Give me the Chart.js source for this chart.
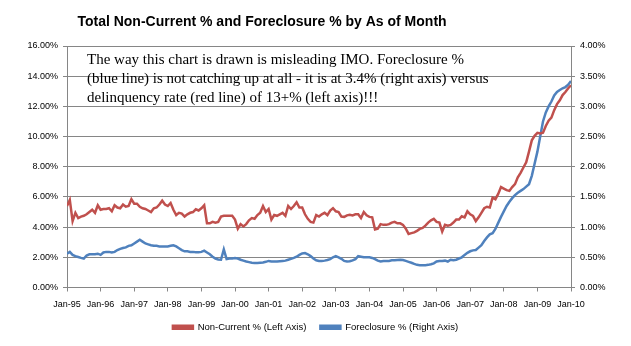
<!DOCTYPE html>
<html>
<head>
<meta charset="utf-8">
<script src="https://cdn.jsdelivr.net/npm/chart.js@4.4.1/dist/chart.umd.min.js"></script>
<style>
  html, body { margin: 0; padding: 0; background: #fff; }
  #wrap { width: 631px; height: 346px; position: relative; }
</style>
</head>
<body>
<div id="wrap"><canvas id="chart"></canvas></div>
<script>
// year labels on the x axis, one per January
const yearLabels = ['Jan-95', 'Jan-96', 'Jan-97', 'Jan-98', 'Jan-99', 'Jan-00', 'Jan-01', 'Jan-02',
  'Jan-03', 'Jan-04', 'Jan-05', 'Jan-06', 'Jan-07', 'Jan-08', 'Jan-09', 'Jan-10'];

// monthly Non-Current %, Jan-95 .. Jan-10 (left axis)
const nonCurrent = [
  5.4, 5.8, 4.4, 4.95, 4.6, 4.7, 4.75, 4.85, 5.0, 5.15, 4.95, 5.45,
  5.15, 5.2, 5.2, 5.25, 5.05, 5.45, 5.3, 5.25, 5.5, 5.35, 5.4, 5.85,
  5.55, 5.55, 5.35, 5.25, 5.2, 5.1, 5.0, 5.25, 5.3, 5.5, 5.75, 5.5,
  5.4, 5.6, 5.15, 4.8, 4.95, 4.9, 4.7, 4.85, 4.95, 5.0, 5.18, 5.1,
  5.25, 5.45, 4.25, 4.25, 4.35, 4.3, 4.35, 4.7, 4.75, 4.75, 4.75, 4.75,
  4.5, 3.9, 4.2, 4.05, 4.2, 4.45, 4.6, 4.55, 4.8, 4.95, 5.4, 5.0,
  5.2, 4.5, 4.8, 4.75, 4.85, 4.95, 4.75, 5.4, 5.2, 5.4, 5.65, 5.3,
  5.3, 4.85, 4.55, 4.35, 4.3, 4.8, 4.7, 4.85, 4.95, 4.8, 5.1, 5.25,
  5.05, 5.0, 4.7, 4.68, 4.78, 4.82, 4.78, 4.85, 4.85, 4.6, 5.0, 4.78,
  4.68, 4.65, 3.85, 3.9, 4.2, 4.15, 4.15, 4.2, 4.3, 4.35, 4.25, 4.25,
  4.15, 3.9, 3.55, 3.6, 3.65, 3.75, 3.88, 3.95, 4.1, 4.3, 4.45, 4.55,
  4.35, 4.3, 3.7, 4.15, 4.1, 4.15, 4.3, 4.5, 4.5, 4.72, 4.65, 5.05,
  4.85, 4.75, 4.4, 4.65, 4.95, 5.25, 5.35, 5.3, 5.95, 5.85, 6.2, 6.65,
  6.55, 6.45, 6.4, 6.65, 6.85, 7.3, 7.6, 7.95, 8.3, 9.0, 9.75, 10.05,
  10.25, 10.2, 10.25, 10.7, 11.05, 11.25, 11.75, 12.15, 12.4, 12.75, 12.95, 13.2,
  13.4
];

// monthly Foreclosure %, Jan-95 .. Jan-10 (right axis)
const foreclosure = [
  0.56, 0.59, 0.54, 0.52, 0.505, 0.49, 0.48, 0.53, 0.55, 0.55, 0.55, 0.56,
  0.54, 0.58, 0.59, 0.59, 0.58, 0.59, 0.62, 0.64, 0.655, 0.665, 0.69, 0.7,
  0.73, 0.76, 0.79, 0.76, 0.73, 0.715, 0.7, 0.69, 0.69, 0.68, 0.68, 0.68,
  0.68, 0.69, 0.7, 0.68, 0.65, 0.62, 0.6, 0.6, 0.59, 0.59, 0.585, 0.585,
  0.59, 0.61, 0.58, 0.55, 0.51, 0.48, 0.465, 0.46, 0.63, 0.47, 0.48, 0.48,
  0.49, 0.48, 0.46, 0.445, 0.43, 0.42, 0.41, 0.405, 0.405, 0.41, 0.415, 0.425,
  0.44, 0.43, 0.43, 0.43, 0.435, 0.44, 0.445, 0.46, 0.475, 0.49, 0.51, 0.54,
  0.565, 0.57, 0.55, 0.52, 0.48, 0.45, 0.44, 0.44, 0.445, 0.455, 0.47, 0.5,
  0.52, 0.5, 0.475, 0.44, 0.43, 0.435, 0.45, 0.47, 0.52, 0.51, 0.5, 0.5,
  0.5, 0.49, 0.47, 0.445, 0.43, 0.44, 0.44, 0.44, 0.45, 0.45, 0.455, 0.46,
  0.455, 0.44, 0.425, 0.41, 0.39, 0.375, 0.37, 0.37, 0.37, 0.375, 0.385, 0.4,
  0.43, 0.44, 0.44, 0.445, 0.43, 0.46, 0.45, 0.46, 0.48, 0.5, 0.54, 0.575,
  0.6, 0.615, 0.62, 0.66, 0.7, 0.77, 0.83, 0.88, 0.9, 0.97, 1.07, 1.17,
  1.26, 1.35, 1.42, 1.48, 1.53, 1.57, 1.6, 1.63, 1.67, 1.71, 1.85, 2.05,
  2.25, 2.5, 2.75, 2.9, 3.0, 3.08, 3.18, 3.24, 3.27, 3.3, 3.32, 3.36,
  3.42
];

const titleText = 'Total Non-Current % and Foreclosure % by As of Month';
const noteLines = [
  'The way this chart is drawn is misleading IMO. Foreclosure %',
  '(blue line) is not catching up at all - it is at 3.4% (right axis) versus',
  'delinquency rate (red line) of 13+% (left axis)!!!'
];

const gridColor = '#868686';
const labelFont = { family: 'Liberation Sans, Arial, sans-serif', size: 9 };

// title and the free-floating comment box
const textPlugin = {
  id: 'textPlugin',
  afterDraw(chart) {
    const ctx = chart.ctx;
    ctx.save();
    ctx.fillStyle = '#000';
    ctx.textBaseline = 'middle';
    ctx.textAlign = 'center';
    ctx.font = 'bold 14px "Liberation Sans", Arial, sans-serif';
    ctx.fillText(titleText, 262, 22);
    ctx.textAlign = 'left';
    ctx.font = '15px "Liberation Serif", "Times New Roman", serif';
    noteLines.forEach((line, i) => ctx.fillText(line, 87, 60 + i * 19));
    ctx.restore();
  }
};

const toPoints = arr => arr.map((v, i) => ({ x: i, y: v }));

new Chart(document.getElementById('chart'), {
  type: 'line',
  data: {
    datasets: [
      {
        label: 'Non-Current % (Left Axis)',
        data: toPoints(nonCurrent),
        borderColor: '#C0504D',
        backgroundColor: '#C0504D',
        borderWidth: 2.5,
        pointRadius: 0,
        tension: 0,
        yAxisID: 'y'
      },
      {
        label: 'Foreclosure % (Right Axis)',
        data: toPoints(foreclosure),
        borderColor: '#4F81BD',
        backgroundColor: '#4F81BD',
        borderWidth: 2.5,
        pointRadius: 0,
        tension: 0,
        yAxisID: 'y1'
      }
    ]
  },
  options: {
    responsive: true,
    maintainAspectRatio: false,
    animation: false,
    layout: { padding: { top: 46, left: 0, right: 0, bottom: 4 } },
    scales: {
      x: {
        type: 'linear',
        min: 0,
        max: 180,
        afterBuildTicks: scale => {
          scale.ticks = yearLabels.map((_, i) => ({ value: i * 12 }));
        },
        ticks: {
          autoSkip: false,
          maxRotation: 0,
          color: '#000',
          font: labelFont,
          padding: 8,
          callback: v => yearLabels[Math.round(v / 12)]
        },
        grid: { drawOnChartArea: false, color: gridColor, tickLength: 4 },
        border: { color: gridColor },
        afterFit: scale => { scale.height = 21; }
      },
      y: {
        position: 'left',
        min: 0,
        max: 16,
        ticks: {
          stepSize: 2,
          color: '#000',
          font: labelFont,
          padding: 5,
          callback: v => v.toFixed(2) + '%'
        },
        grid: { color: gridColor, tickLength: 4 },
        border: { color: gridColor },
        afterFit: scale => { scale.width = 67; }
      },
      y1: {
        position: 'right',
        min: 0,
        max: 4,
        ticks: {
          stepSize: 0.5,
          color: '#000',
          font: labelFont,
          padding: 5,
          callback: v => v.toFixed(2) + '%'
        },
        grid: { drawOnChartArea: false, color: gridColor, tickLength: 4 },
        border: { color: gridColor },
        afterFit: scale => { scale.width = 60; }
      }
    },
    plugins: {
      legend: {
        position: 'bottom',
        labels: {
          boxWidth: 20,
          boxHeight: 3,
          color: '#000',
          font: { family: 'Liberation Sans, Arial, sans-serif', size: 9.5 },
          padding: 14
        }
      },
      tooltip: { enabled: false }
    }
  },
  plugins: [textPlugin]
});
</script>
</body>
</html>
